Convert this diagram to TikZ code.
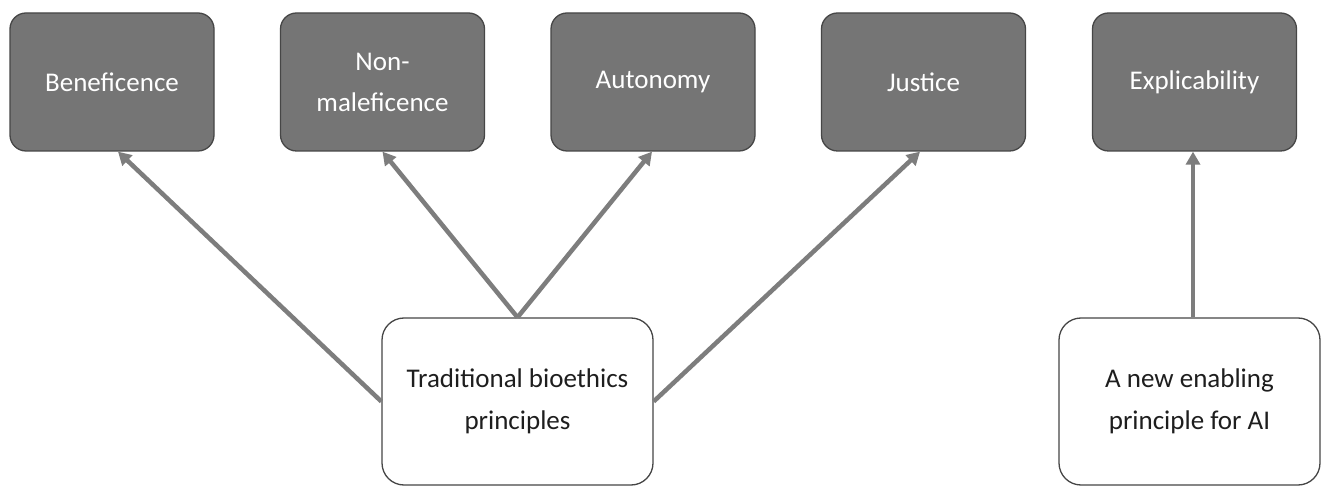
\documentclass[tikz,border=0pt]{standalone}
\usepackage{fontspec}
\setmainfont{Carlito}
\usetikzlibrary{arrows.meta,calc}
\definecolor{boxfill}{RGB}{117,117,117}
\definecolor{boxline}{RGB}{70,70,70}
\definecolor{arrcol}{RGB}{125,125,125}
\definecolor{txtdark}{RGB}{30,30,30}
\begin{document}
\begin{tikzpicture}[x=1pt,y=1pt,
  topbox/.style={draw=boxline,line width=1.3pt,fill=boxfill,rounded corners=16pt,
    minimum width=204pt,minimum height=138pt,inner sep=0pt,text=white,align=center,
    font=\fontsize{27}{41}\selectfont},
  basebox/.style={draw=boxline,line width=1.3pt,fill=white,rounded corners=22pt,
    minimum width=271pt,minimum height=167pt,inner sep=0pt,text=txtdark,align=center,
    font=\fontsize{27}{42}\selectfont},
  arr/.style={draw=arrcol,line width=4.5pt,-{Triangle[length=13pt,width=14pt]}}]
\useasboundingbox (0,0) rectangle (1321,487);
\fill[white] (0,0) rectangle (1321,487);
\node[topbox] (ben) at (112,405) {Beneficence};
\node[topbox] (nonm) at (382.5,405) {Non-\\maleficence};
\node[topbox] (aut) at (653,405) {Autonomy};
\node[topbox] (jus) at (923.5,405) {Justice};
\node[topbox] (exp) at (1194.5,405) {Explicability};
\node[basebox] (trad) at (517.5,85.5) {Traditional bioethics\\principles};
\node[basebox,minimum width=261pt] (ai) at (1189.5,85.5) {A new enabling\\principle for AI};
\draw[arr] (trad.west) -- ($(ben.south)+(6,0)$);
\draw[arr] (trad.north) -- (nonm.south);
\draw[arr] (trad.north) -- ($(aut.south)+(-1,0)$);
\draw[arr] (trad.east) -- ($(jus.south)+(-3.5,0)$);
\draw[arr] ($(ai.north)+(3.5,0)$) -- ($(exp.south)+(-1.5,0)$);
\end{tikzpicture}
\end{document}
